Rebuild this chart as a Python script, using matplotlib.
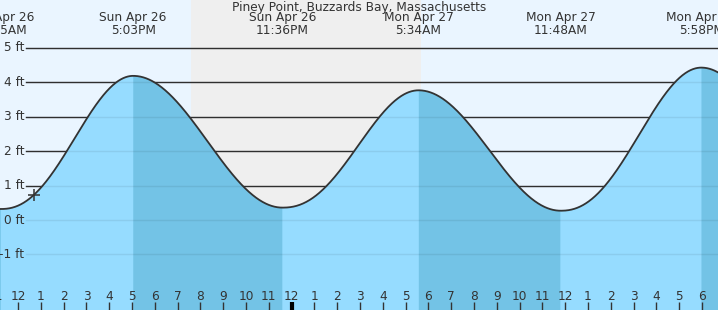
import numpy as np
import matplotlib
matplotlib.use("Agg")
import matplotlib.pyplot as plt
import matplotlib.transforms as mtransforms

# ---- data (hours from Sun Apr 26 00:00) ----
extreme_hours = [5.10, 11.25, 17.05, 23.60, 29.567, 35.80, 41.967, 48.20]
extreme_heights = [4.00, 0.32, 4.19, 0.36, 3.77, 0.27, 4.43, 0.30]
extreme_days = ["", "Sun Apr 26", "Sun Apr 26", "Sun Apr 26", "Mon Apr 27", "Mon Apr 27", "Mon Apr 27", ""]
extreme_times = ["", "11:15AM", "5:03PM", "11:36PM", "5:34AM", "11:48AM", "5:58PM", ""]
sunset_hour = 19.59
sunrise_hour = 29.675
now_hour = 12.70
now_height = 0.73
ft_levels = [-1, 0, 1, 2, 3, 4, 5]
ft_labels = ["-1 ft", "0 ft", "1 ft", "2 ft", "3 ft", "4 ft", "5 ft"]
hour_ticks = list(range(11, 43))
title = "Piney Point, Buzzards Bay, Massachusetts"

# ---- styles ----
DAY = "#eaf5ff"
NIGHT = "#efefef"
WATER = "#96dcff"
WATER_DARK = "#73c3e6"
INK = "#333333"
FONT = "DejaVu Sans"
FS = 8.7
RISE_SHAPE = 1.12  # flood tide asymmetry of the drawn curve

W, H = 718, 310
fig = plt.figure(figsize=(W / 100, H / 100), dpi=100)
ax = fig.add_axes([0, 0, 1, 1])
x0, x1 = 11.21, 42.70
y0, y1 = -2.616, 6.395
ax.set_xlim(x0, x1)
ax.set_ylim(y0, y1)
ax.axis("off")
ax.add_patch(plt.Rectangle((0, 0), 1, 1, transform=ax.transAxes, color=DAY, zorder=0))
ax.axvspan(sunset_hour, sunrise_hour, color=NIGHT, zorder=0.5, lw=0)

# tide curve: cosine between consecutive extremes
t = np.linspace(x0, x1, 2000)
h = np.empty_like(t)
falling = np.zeros_like(t, dtype=bool)
for i in range(len(extreme_hours) - 1):
    ta, tb = extreme_hours[i], extreme_hours[i + 1]
    ha, hb = extreme_heights[i], extreme_heights[i + 1]
    m = (t >= ta) & (t <= tb)
    f = (t[m] - ta) / (tb - ta)
    if hb > ha:
        f = f ** RISE_SHAPE
    h[m] = ha + (hb - ha) * (1 - np.cos(np.pi * f)) / 2
    falling[m] = hb < ha

# grid lines (under the water)
for lv in ft_levels:
    ax.axhline(lv, xmin=26 / W, xmax=1, color=INK, lw=1, zorder=1)

ax.fill_between(t, y0, h, color=WATER, lw=0, zorder=2)
ax.fill_between(t, y0, h, where=falling, color=WATER_DARK, lw=0, zorder=2.1)

for lv in ft_levels:
    ax.axhline(lv, xmin=26 / W, xmax=1, color="#000000", alpha=0.07, lw=1, zorder=3)

ax.plot(t, h, color=INK, lw=1.3, zorder=4)
ax.plot([now_hour], [now_height], marker="+", ms=9, mew=1.1, color=INK, zorder=5)

# y labels
for lv, lab in zip(ft_levels, ft_labels):
    ax.text(24 / W, lv, lab, transform=mtransforms.blended_transform_factory(ax.transAxes, ax.transData),
            ha="right", va="center", fontsize=FS, color=INK, family=FONT, zorder=6)

# top labels
bt = mtransforms.blended_transform_factory(ax.transData, ax.transAxes)
for hr, d, tm in zip(extreme_hours, extreme_days, extreme_times):
    if not d:
        continue
    ax.text(hr, 1 - 18 / H, d, transform=bt, ha="center", va="center", fontsize=FS, color=INK,
            family=FONT, zorder=6, clip_on=False)
    ax.text(hr, 1 - 31 / H, tm, transform=bt, ha="center", va="center", fontsize=FS, color=INK,
            family=FONT, zorder=6, clip_on=False)
ax.text(0.5, 1 - 7 / H, title, transform=ax.transAxes, ha="center", va="center", fontsize=FS,
        color=INK, family=FONT, zorder=6)

# hour ticks
for hr in hour_ticks:
    lab = str(hr % 12 if hr % 12 else 12)
    ax.text(hr, 14 / H, lab, transform=bt, ha="center", va="center", fontsize=FS, color=INK,
            family=FONT, zorder=6)
    bold = hr % 24 == 0
    ax.plot([hr, hr], [0, 8 / H], transform=bt, color="#000000" if bold else INK,
            lw=3 if bold else 1, zorder=6, solid_capstyle="butt")

fig.savefig("out.png", dpi=100)
